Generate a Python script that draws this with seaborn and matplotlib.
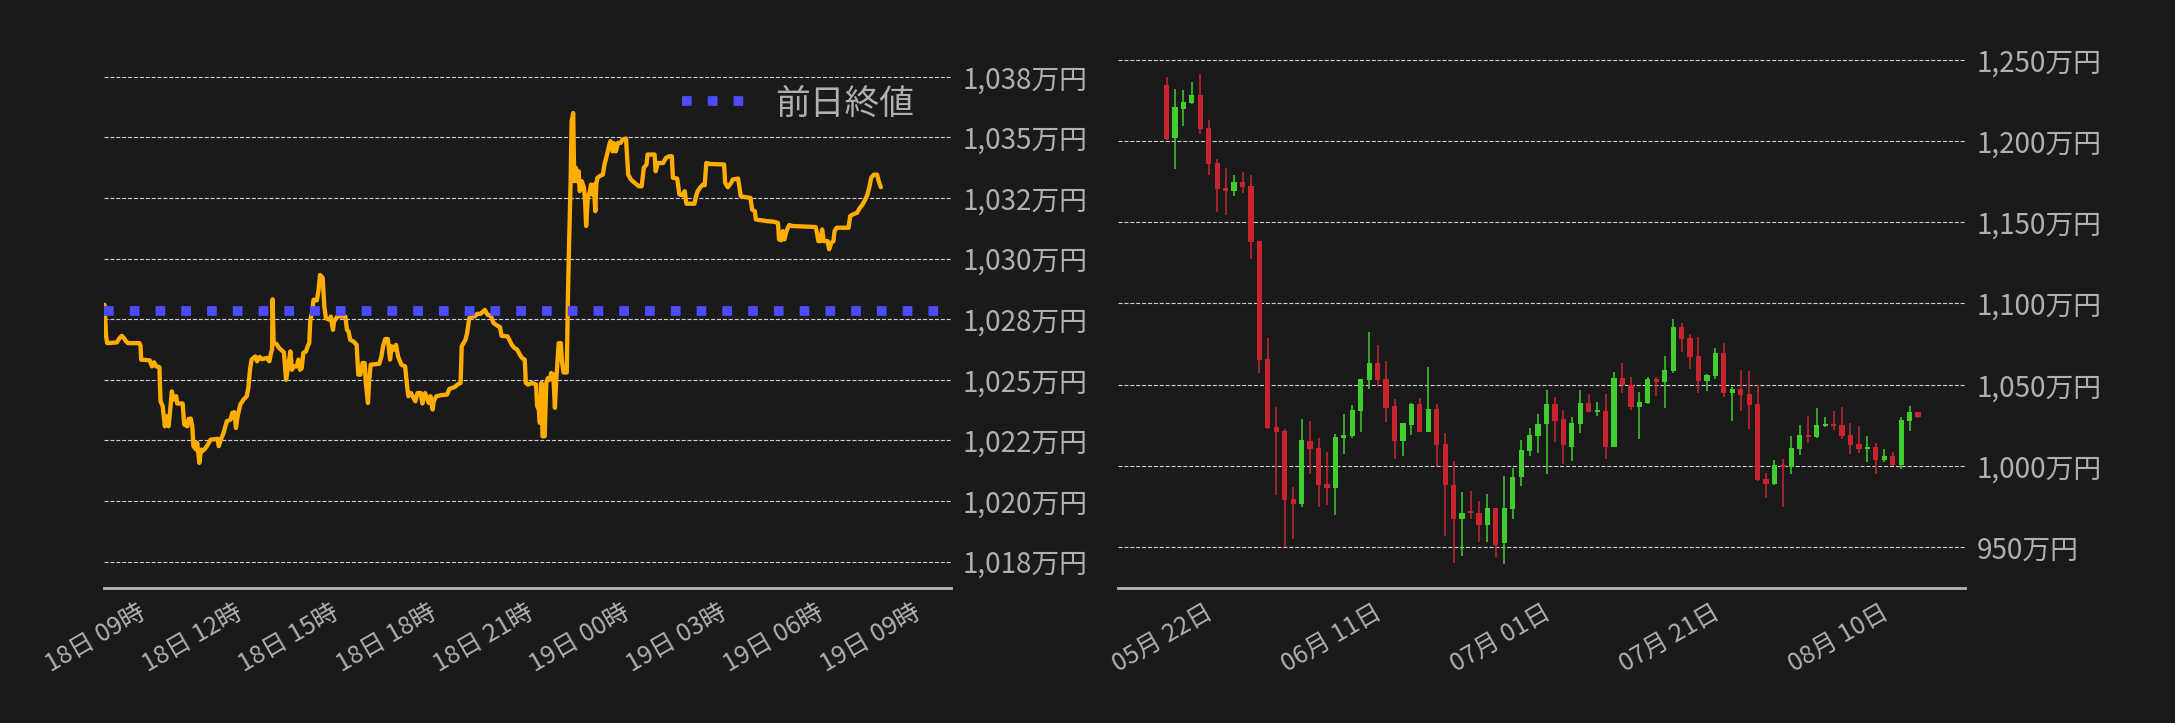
import matplotlib
matplotlib.use('Agg')
import matplotlib.pyplot as plt
import matplotlib.dates as mdates
import numpy as np
import pandas as pd
import seaborn as sns

# intraday price (万円), minutes after the start time
inicio = pd.Timestamp('2024-08-18 07:35')
minutos = [1, 4, 6, 24, 29, 33, 37, 41, 45, 66, 68, 69, 85, 89, 93, 97, 103, 104, 105, 109,
           113, 116, 120, 123, 126, 129, 134, 136, 146, 149, 155, 157, 161, 164, 166, 171, 173, 177, 180, 182,
           186, 191, 198, 211, 213, 217, 222, 228, 235, 238, 242, 245, 248, 253, 259, 265, 268, 271, 274, 281,
           284, 289, 293, 302, 307, 310, 312, 313, 315, 320, 325, 330, 334, 338, 342, 346, 349, 352, 358, 361,
           364, 367, 370, 375, 378, 381, 383, 386, 389, 395, 398, 401, 404, 406, 409, 412, 419, 421, 425, 427,
           433, 448, 451, 454, 457, 463, 469, 472, 476, 480, 484, 486, 490, 492, 495, 511, 515, 518, 522, 527,
           531, 534, 538, 542, 546, 552, 559, 562, 565, 570, 578, 582, 588, 591, 596, 603, 606, 610, 612, 617,
           625, 637, 641, 651, 656, 662, 664, 671, 674, 678, 683, 688, 693, 699, 707, 712, 718, 723, 730, 735,
           738, 749, 754, 757, 762, 767, 772, 776, 781, 783, 787, 795, 802, 804, 807, 809, 812, 814, 818, 821,
           824, 828, 830, 834, 837, 839, 842, 844, 848, 850, 853, 859, 861, 863, 866, 868, 871, 872, 873, 876,
           878, 881, 883, 887, 891, 893, 895, 898, 902, 904, 907, 909, 912, 914, 916, 920, 926, 929, 933, 938,
           940, 944, 946, 950, 954, 959, 962, 969, 971, 973, 978, 985, 993, 998, 1002, 1007, 1009, 1022, 1024, 1028,
           1038, 1043, 1049, 1054, 1056, 1064, 1068, 1074, 1078, 1081, 1096, 1099, 1102, 1107, 1112, 1115, 1118, 1125, 1151, 1153,
           1158, 1164, 1167, 1177, 1182, 1191, 1200, 1203, 1208, 1210, 1231, 1243, 1251, 1253, 1257, 1260, 1263, 1266, 1268, 1272,
           1278, 1321, 1324, 1326, 1330, 1333, 1336, 1343, 1346, 1350, 1354, 1356, 1360, 1382, 1385, 1390, 1398, 1403, 1408, 1413,
           1417, 1421, 1424, 1429, 1435, 1438, 1442]
precos = [1028.09, 1026.79, 1026.51, 1026.54, 1026.72, 1026.81, 1026.72, 1026.58, 1026.51, 1026.51, 1026.38, 1025.83, 1025.80, 1025.55, 1025.72, 1025.55, 1025.52, 1024.73, 1024.11, 1023.91,
          1023.08, 1023.49, 1023.08, 1023.77, 1024.52, 1024.18, 1024.32, 1024.02, 1024.02, 1023.15, 1023.08, 1023.38, 1023.40, 1023.08, 1022.26, 1022.12, 1022.40, 1021.57, 1022.12, 1022.05,
          1022.12, 1022.26, 1022.53, 1022.56, 1022.26, 1022.53, 1022.81, 1023.29, 1023.36, 1023.63, 1023.66, 1023.01, 1023.49, 1023.97, 1024.18, 1024.32, 1024.66, 1025.41, 1025.83, 1025.96,
          1025.76, 1025.94, 1025.85, 1025.90, 1025.76, 1026.10, 1026.24, 1028.32, 1026.51, 1026.48, 1026.31, 1026.21, 1026.13, 1025.00, 1025.55, 1026.17, 1025.41, 1025.55, 1025.55, 1025.83,
          1025.41, 1025.48, 1026.10, 1026.17, 1026.38, 1026.51, 1027.47, 1027.75, 1028.30, 1028.27, 1028.64, 1029.32, 1029.26, 1029.19, 1028.02, 1027.54, 1027.47, 1027.61, 1027.06, 1027.40,
          1027.61, 1027.61, 1027.06, 1026.99, 1026.65, 1026.58, 1026.44, 1025.21, 1025.21, 1025.69, 1025.69, 1024.87, 1024.04, 1024.87, 1025.62, 1025.66, 1025.96, 1026.38, 1026.68, 1026.68,
          1025.83, 1026.38, 1026.24, 1026.44, 1025.96, 1025.62, 1025.55, 1024.87, 1024.32, 1024.45, 1024.11, 1024.45, 1024.45, 1024.02, 1024.45, 1024.04, 1024.32, 1023.77, 1024.11, 1024.32,
          1024.36, 1024.39, 1024.62, 1024.70, 1024.80, 1024.87, 1026.38, 1026.65, 1026.92, 1027.54, 1027.61, 1027.61, 1027.72, 1027.72, 1027.88, 1027.68, 1027.64, 1027.34, 1027.23, 1027.17,
          1026.81, 1026.79, 1026.58, 1026.44, 1026.31, 1026.24, 1026.03, 1025.90, 1025.83, 1024.87, 1024.80, 1024.87, 1024.80, 1023.91, 1023.77, 1023.22, 1024.87, 1022.67, 1022.67, 1024.87,
          1025.07, 1025.00, 1025.28, 1025.21, 1023.84, 1024.80, 1025.83, 1026.51, 1026.51, 1025.78, 1025.30, 1025.30, 1028.25, 1030.31, 1033.05, 1035.66, 1036.00, 1034.42, 1033.19, 1033.74,
          1033.19, 1033.60, 1032.78, 1033.19, 1032.91, 1032.37, 1031.34, 1032.50, 1032.78, 1033.05, 1032.64, 1033.05, 1031.95, 1033.12, 1033.33, 1033.40, 1033.46, 1033.88, 1034.22, 1034.70,
          1034.84, 1034.42, 1034.77, 1034.42, 1034.77, 1034.77, 1034.90, 1034.95, 1034.22, 1033.46, 1033.26, 1033.12, 1032.98, 1032.98, 1033.74, 1033.88, 1034.29, 1034.29, 1033.60, 1033.94,
          1033.94, 1034.15, 1034.22, 1034.22, 1033.33, 1033.30, 1032.64, 1032.61, 1032.78, 1032.26, 1032.26, 1032.57, 1032.78, 1032.94, 1033.05, 1033.02, 1033.94, 1033.90, 1033.88, 1033.12,
          1032.94, 1033.12, 1033.26, 1033.30, 1032.57, 1032.53, 1032.50, 1032.02, 1031.95, 1031.61, 1031.54, 1031.52, 1031.47, 1030.79, 1030.75, 1031.13, 1030.79, 1031.06, 1031.20, 1031.38,
          1031.34, 1031.30, 1030.99, 1030.72, 1030.72, 1031.20, 1030.72, 1030.72, 1030.38, 1030.65, 1030.72, 1031.13, 1031.27, 1031.27, 1031.75, 1031.82, 1031.89, 1032.09, 1032.23, 1032.43,
          1032.64, 1032.98, 1033.33, 1033.46, 1033.46, 1033.19, 1032.94]
fechamento_anterior = 1027.85
ticks_intraday = [1017.5, 1020, 1022.5, 1025, 1027.5, 1030, 1032.5, 1035, 1037.5]

# daily candles (万円)
primeiro_dia = '2024-05-16'
abertura = [1234.6, 1202.0, 1219.8, 1223.5, 1228.4, 1208.1, 1186.6, 1171.1, 1169.3, 1174.8,
            1172.4, 1138.5, 1065.8, 1023.9, 1021.5, 979.6, 976.7, 1015.3, 1011.0, 988.8,
            986.3, 1017.1, 1018.7, 1033.5, 1052.7, 1063.2, 1053.3, 1036.6, 1015.2, 1024.9,
            1037.9, 1020.8, 1034.8, 1013.2, 988.5, 967.1, 972.0, 971.2, 963.4, 974.3,
            952.3, 973.7, 993.0, 1009.1, 1018.3, 1026.1, 1037.9, 1028.6, 1011.9, 1026.1,
            1038.5, 1032.9, 1033.5, 1011.9, 1053.9, 1050.0, 1036.0, 1038.5, 1053.3, 1051.4,
            1058.2, 1085.4, 1078.6, 1067.5, 1052.1, 1055.1, 1069.3, 1044.7, 1047.1, 1044.0,
            1037.9, 992.2, 989.1, 1000.8, 999.6, 1010.7, 1019.3, 1018.1, 1024.3, 1025.5,
            1024.9, 1019.3, 1013.2, 1010.7, 1011.9, 1003.9, 1005.8, 1000.8, 1027.4, 1032.9]
maxima = [1239.3, 1232.3, 1231.1, 1236.2, 1241.4, 1213.0, 1189.0, 1183.5, 1179.0, 1181.0,
          1179.0, 1138.5, 1078.7, 1036.2, 1022.7, 987.0, 1028.8, 1027.6, 1017.1, 1008.5,
          1019.6, 1031.9, 1037.4, 1053.7, 1082.7, 1074.3, 1064.4, 1040.9, 1026.7, 1038.9,
          1041.6, 1061.1, 1038.3, 1020.0, 1003.1, 984.0, 984.8, 978.6, 982.7, 974.3,
          993.8, 998.8, 1016.0, 1023.5, 1032.1, 1046.9, 1042.2, 1034.6, 1030.0, 1046.9,
          1044.4, 1039.3, 1044.0, 1058.0, 1063.2, 1054.5, 1045.7, 1054.9, 1054.7, 1067.9,
          1090.7, 1087.9, 1081.1, 1079.2, 1056.4, 1072.4, 1075.5, 1048.6, 1058.8, 1058.2,
          1049.6, 995.9, 1003.9, 1004.5, 1018.7, 1024.9, 1030.7, 1035.4, 1029.8, 1033.5,
          1036.0, 1026.7, 1024.3, 1018.7, 1013.8, 1010.1, 1008.8, 1029.8, 1036.6, 1032.9]
minimas = [1200.7, 1182.6, 1209.1, 1222.7, 1204.6, 1179.2, 1156.4, 1154.5, 1166.4, 1168.3,
           1127.4, 1057.4, 1022.7, 982.0, 949.8, 955.1, 974.4, 995.2, 974.8, 976.1,
           969.5, 1007.5, 1017.3, 1021.0, 1047.5, 1048.8, 1027.0, 1004.1, 1006.2, 1019.1,
           1020.8, 1020.8, 1000.0, 956.6, 940.5, 944.4, 967.5, 952.9, 953.1, 944.2,
           939.5, 967.5, 987.9, 1006.4, 1008.0, 995.1, 1014.6, 1001.0, 1003.1, 1020.4,
           1032.9, 1030.5, 1004.5, 1011.5, 1044.7, 1034.2, 1016.5, 1037.9, 1043.0, 1035.6,
           1057.4, 1070.0, 1059.5, 1044.7, 1046.1, 1053.7, 1042.4, 1027.6, 1033.5, 1023.0,
           990.9, 980.5, 988.5, 974.9, 994.9, 1006.6, 1013.8, 1017.1, 1023.7, 1021.8,
           1016.3, 1007.6, 1008.2, 1002.3, 995.3, 1002.5, 1000.2, 997.9, 1021.4, 1029.2]
fechamento = [1201.3, 1221.0, 1224.1, 1228.4, 1207.5, 1186.1, 1170.5, 1169.5, 1174.8, 1171.8,
              1138.1, 1065.4, 1023.3, 1021.0, 979.0, 976.7, 1015.9, 1010.6, 988.2, 986.3,
              1017.8, 1019.2, 1034.2, 1053.3, 1063.2, 1052.7, 1035.4, 1015.2, 1026.7, 1037.9,
              1020.8, 1034.8, 1012.8, 988.1, 967.1, 971.2, 970.8, 963.4, 974.3, 951.4,
              974.3, 993.4, 1009.5, 1019.3, 1026.1, 1037.9, 1027.4, 1012.8, 1026.7, 1038.5,
              1032.9, 1034.2, 1011.9, 1053.9, 1050.0, 1036.0, 1039.1, 1053.3, 1051.4, 1058.8,
              1085.4, 1078.0, 1066.9, 1052.1, 1055.8, 1069.3, 1044.7, 1047.1, 1043.4, 1037.2,
              991.6, 989.1, 1000.8, 999.6, 1011.3, 1019.3, 1018.1, 1024.9, 1025.5, 1024.3,
              1018.7, 1012.6, 1010.7, 1011.9, 1003.9, 1005.8, 1000.8, 1028.0, 1032.9, 1029.8]
ticks_diario = [950, 1000, 1050, 1100, 1150, 1200, 1250]
datas_ticks = ['2024-05-22', '2024-06-11', '2024-07-01', '2024-07-21', '2024-08-10']

fundo = '#1a1a1a'
cinza = '#b0b0b0'
laranja = '#ffad00'
azul = '#4b4bff'
verde = '#41cd2d'
vermelho = '#c9252f'

sns.set_theme(style='dark', rc={'axes.facecolor': fundo, 'figure.facecolor': fundo})
plt.rcParams['font.family'] = ['Noto Sans CJK JP', 'DejaVu Sans']

df_intraday = pd.DataFrame({'hora': inicio + pd.to_timedelta(minutos, unit='min'), 'preco': precos})
datas = pd.date_range(primeiro_dia, periods=len(abertura), freq='D')
df_diario = pd.DataFrame({'data': datas, 'abertura': abertura, 'maxima': maxima,
                          'minima': minimas, 'fechamento': fechamento})


def estilo_eixo(ax, ticks, fmt):
    for lado in ['top', 'left', 'right']:
        ax.spines[lado].set_visible(False)
    ax.spines['bottom'].set_color('#b5b5b5')
    ax.spines['bottom'].set_linewidth(2)
    ax.yaxis.tick_right()
    ax.set_yticks(ticks)
    ax.set_yticklabels([fmt(t) for t in ticks])
    ax.tick_params(axis='y', length=0, pad=8, labelsize=20, labelcolor=cinza)
    ax.tick_params(axis='x', length=0, pad=8, labelsize=18, labelcolor=cinza)
    ax.grid(axis='y', linestyle='--', color='#cfcfcf', linewidth=0.8)
    ax.grid(axis='x', visible=False)
    ax.set_axisbelow(True)
    ax.set_xlabel('')
    ax.set_ylabel('')


fig = plt.figure(figsize=(21.75, 7.23), dpi=100)
ax1 = fig.add_axes([0.0478, 0.1864, 0.3894, 0.7444])
ax2 = fig.add_axes([0.5142, 0.1864, 0.3894, 0.7444])

# intraday
sns.lineplot(data=df_intraday, x='hora', y='preco', ax=ax1, color=laranja, linewidth=3.1,
             estimator=None, sort=False)
ax1.axhline(fechamento_anterior, color=azul, linewidth=7, linestyle=':', label='前日終値')
ax1.set_xlim(inicio, inicio + pd.Timedelta(hours=26.2))
ax1.set_ylim(1016.4, 1038.6)
estilo_eixo(ax1, ticks_intraday, lambda t: f'{t:,.0f}万円')
ax1.xaxis.set_major_locator(mdates.HourLocator(byhour=range(0, 24, 3)))
ax1.xaxis.set_major_formatter(mdates.DateFormatter('%d日 %H時'))
leg = ax1.legend(loc='upper right', frameon=False, fontsize=25, handlelength=1.8,
                 handletextpad=0.9, borderaxespad=0.65)
for t in leg.get_texts():
    t.set_color(cinza)

# daily candles
cores = [verde if c >= o else vermelho for o, c in zip(df_diario['abertura'], df_diario['fechamento'])]
ax2.vlines(df_diario['data'], df_diario['minima'], df_diario['maxima'], colors=cores, linewidth=1.1)
corpo = np.maximum((df_diario['fechamento'] - df_diario['abertura']).abs(), 1.0)
base = df_diario[['abertura', 'fechamento']].min(axis=1)
ax2.bar(df_diario['data'], corpo, bottom=base, width=0.62, color=cores, linewidth=0)
ax2.set_xlim(datas[0] - pd.Timedelta(days=5.7), datas[-1] + pd.Timedelta(days=5.6))
ax2.set_ylim(924.7, 1256)
estilo_eixo(ax2, ticks_diario, lambda t: f'{t:,.0f}万円')
ax2.set_xticks(pd.to_datetime(datas_ticks))
ax2.xaxis.set_major_formatter(mdates.DateFormatter('%m月 %d日'))

for ax in (ax1, ax2):
    plt.setp(ax.get_xticklabels(), rotation=30, ha='right')

fig.savefig('out.png', dpi=100, facecolor=fundo)
plt.close()
